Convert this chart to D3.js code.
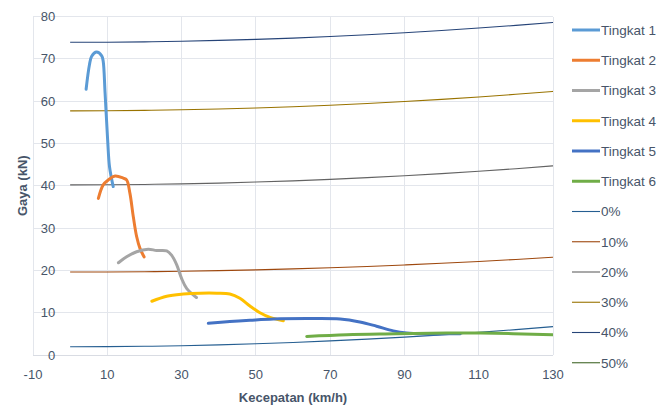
<!DOCTYPE html>
<html>
<head>
<meta charset="utf-8">
<script src="https://cdn.jsdelivr.net/npm/d3@7"></script>
<style>
  html, body { margin: 0; padding: 0; background: #fff; }
  svg { display: block; font-family: "Liberation Sans", Arial, sans-serif; }
</style>
</head>
<body>
<svg id="chart" width="671" height="406"></svg>
<script>
// Gear traction curves: [speed km/h, force kN]
const tingkat1 = [[4.3,62.8],[5.2,68.6],[5.8,70.6],[7.1,71.6],[8.5,70.7],[8.9,69.4],[9.4,62],[10.1,50.8],[10.6,44.5],[11.6,39.8]];
const tingkat2 = [[7.6,37],[8.9,40.2],[10.3,41.4],[12.1,42.3],[14.3,41.8],[15.2,41.4],[16.1,38.2],[17,32.7],[17.9,28],[18.8,25.2],[19.9,23.2]];
const tingkat3 = [[13,21.8],[15.2,23.2],[17.9,24.4],[21,25],[23.3,24.7],[26,24.6],[27.3,23.6],[28.7,21.3],[30,18.1],[31.4,15.7],[34,13.6]];
const tingkat4 = [[22,12.7],[26,13.9],[30.5,14.4],[35,14.6],[39.5,14.6],[43,14.4],[45.7,13.4],[48.4,11.6],[51.1,10],[53.8,8.9],[57.4,8.1]];
const tingkat5 = [[37.2,7.5],[43,7.9],[48.4,8.2],[54.7,8.5],[63.7,8.6],[72.7,8.5],[78,7.8],[82.5,6.8],[87,5.7],[90.6,5.2],[95.1,5.0],[100,5.0],[105,5.0]];
const tingkat6 = [[63.7,4.4],[74.5,4.8],[87.9,5.0],[101.4,5.2],[110.4,5.2],[130,4.8]];

// Road resistance by grade, sampled at these speeds
const speeds = [0,10,20,30,40,50,60,70,80,90,100,110,120,130];
const grade0  = [1.95,1.98,2.06,2.2,2.4,2.65,2.96,3.33,3.75,4.23,4.76,5.35,6.0,6.7];
const grade10 = [19.6,19.62,19.68,19.79,19.93,20.12,20.35,20.62,20.93,21.28,21.67,22.11,22.58,23.1];
const grade20 = [40.2,40.23,40.31,40.44,40.63,40.87,41.16,41.51,41.91,42.36,42.86,43.42,44.03,44.7];
const grade30 = [57.7,57.73,57.81,57.95,58.14,58.38,58.68,59.03,59.44,59.9,60.42,60.99,61.62,62.3];
const grade40 = [73.9,73.93,74.01,74.15,74.35,74.6,74.9,75.26,75.68,76.15,76.68,77.27,77.9,78.6];
const grade50 = [90.6,90.63,90.71,90.86,91.06,91.31,91.62,91.99,92.42,92.9,93.44,94.04,94.69,95.4];

const xTicks = [-10,10,30,50,70,90,110,130];
const yTicks = [0,10,20,30,40,50,60,70,80];

const gearNames = ["Tingkat 1","Tingkat 2","Tingkat 3","Tingkat 4","Tingkat 5","Tingkat 6"];
const gearColors = ["#5B9BD5","#ED7D31","#A5A5A5","#FFC000","#4472C4","#70AD47"];
const gradeNames = ["0%","10%","20%","30%","40%","50%"];
const gradeColors = ["#255E91","#9E480E","#636363","#997300","#264478","#43682B"];

const svg = d3.select("#chart");
const x = d3.scaleLinear().domain([-10,130]).range([33,553]);
const y = d3.scaleLinear().domain([0,80]).range([355,16.5]);

const textColor = "#475569";

svg.append("defs").append("clipPath").attr("id","plot-clip")
  .append("rect").attr("x",x(-10)).attr("y",y(80)).attr("width",x(130)-x(-10)).attr("height",y(0)-y(80));

// gridlines
const grid = svg.append("g");
grid.selectAll("line.h").data(yTicks.filter(d => d !== 0)).join("line")
  .attr("x1",x(-10)).attr("x2",x(130)).attr("y1",d=>y(d)).attr("y2",d=>y(d))
  .attr("stroke","#E3E6EC").attr("stroke-width",1).attr("shape-rendering","crispEdges");
grid.selectAll("line.v").data(xTicks).join("line")
  .attr("x1",d=>x(d)).attr("x2",d=>x(d)).attr("y1",y(80)).attr("y2",y(0))
  .attr("stroke","#E3E6EC").attr("stroke-width",1).attr("shape-rendering","crispEdges");

// horizontal axis line
svg.append("line").attr("x1",x(-10)).attr("x2",x(130)).attr("y1",y(0)).attr("y2",y(0))
  .attr("stroke","#D9DCE3").attr("stroke-width",1).attr("shape-rendering","crispEdges");

// tick labels (value axis sits at speed 0)
svg.append("g").selectAll("text").data(yTicks).join("text")
  .attr("x", x(0) - 15).attr("y", d => y(d)).attr("dy","0.36em")
  .attr("text-anchor","end").attr("font-size",13).attr("fill",textColor)
  .text(d => d);
svg.append("g").selectAll("text").data(xTicks).join("text")
  .attr("x", d => x(d)).attr("y", y(0) + 23.5)
  .attr("text-anchor","middle").attr("font-size",13).attr("fill",textColor)
  .text(d => d);

// axis titles
svg.append("text").attr("x",(x(-10)+x(130))/2).attr("y",402)
  .attr("text-anchor","middle").attr("font-size",13).attr("font-weight","bold").attr("fill",textColor)
  .text("Kecepatan (km/h)");
svg.append("text").attr("transform",`translate(26.5,${(y(0)+y(80))/2}) rotate(-90)`)
  .attr("text-anchor","middle").attr("font-size",13).attr("font-weight","bold").attr("fill",textColor)
  .text("Gaya (kN)");

const plot = svg.append("g").attr("clip-path","url(#plot-clip)");

// resistance lines
const gradeSeries = [grade0,grade10,grade20,grade30,grade40,grade50];
const straight = d3.line().x(d=>x(d[0])).y(d=>y(d[1])).curve(d3.curveMonotoneX);
gradeSeries.forEach((vals,i) => {
  plot.append("path").datum(speeds.map((s,j)=>[s,vals[j]]))
    .attr("d",straight).attr("fill","none")
    .attr("stroke",gradeColors[i]).attr("stroke-width",1.1);
});

// gear traction curves
const gearSeries = [tingkat1,tingkat2,tingkat3,tingkat4,tingkat5,tingkat6];
const smooth = d3.line().x(d=>x(d[0])).y(d=>y(d[1])).curve(d3.curveCatmullRom.alpha(0.5));
gearSeries.forEach((pts,i) => {
  plot.append("path").datum(pts)
    .attr("d",smooth).attr("fill","none")
    .attr("stroke",gearColors[i]).attr("stroke-width",3)
    .attr("stroke-linecap","round").attr("stroke-linejoin","round");
});

// legend
const legendItems = gearNames.map((n,i)=>({name:n,color:gearColors[i],w:3}))
  .concat(gradeNames.map((n,i)=>({name:n,color:gradeColors[i],w:1.1})));
const lg = svg.append("g").selectAll("g").data(legendItems).join("g")
  .attr("transform",(d,i)=>`translate(572,${30 + i*30.25})`);
lg.append("line").attr("x1",0).attr("x2",28).attr("y1",0).attr("y2",0)
  .attr("stroke",d=>d.color).attr("stroke-width",d=>d.w);
lg.append("text").attr("x",29).attr("y",0).attr("dy","0.36em")
  .attr("font-size",13.5).attr("fill",textColor).text(d=>d.name);
</script>
</body>
</html>
